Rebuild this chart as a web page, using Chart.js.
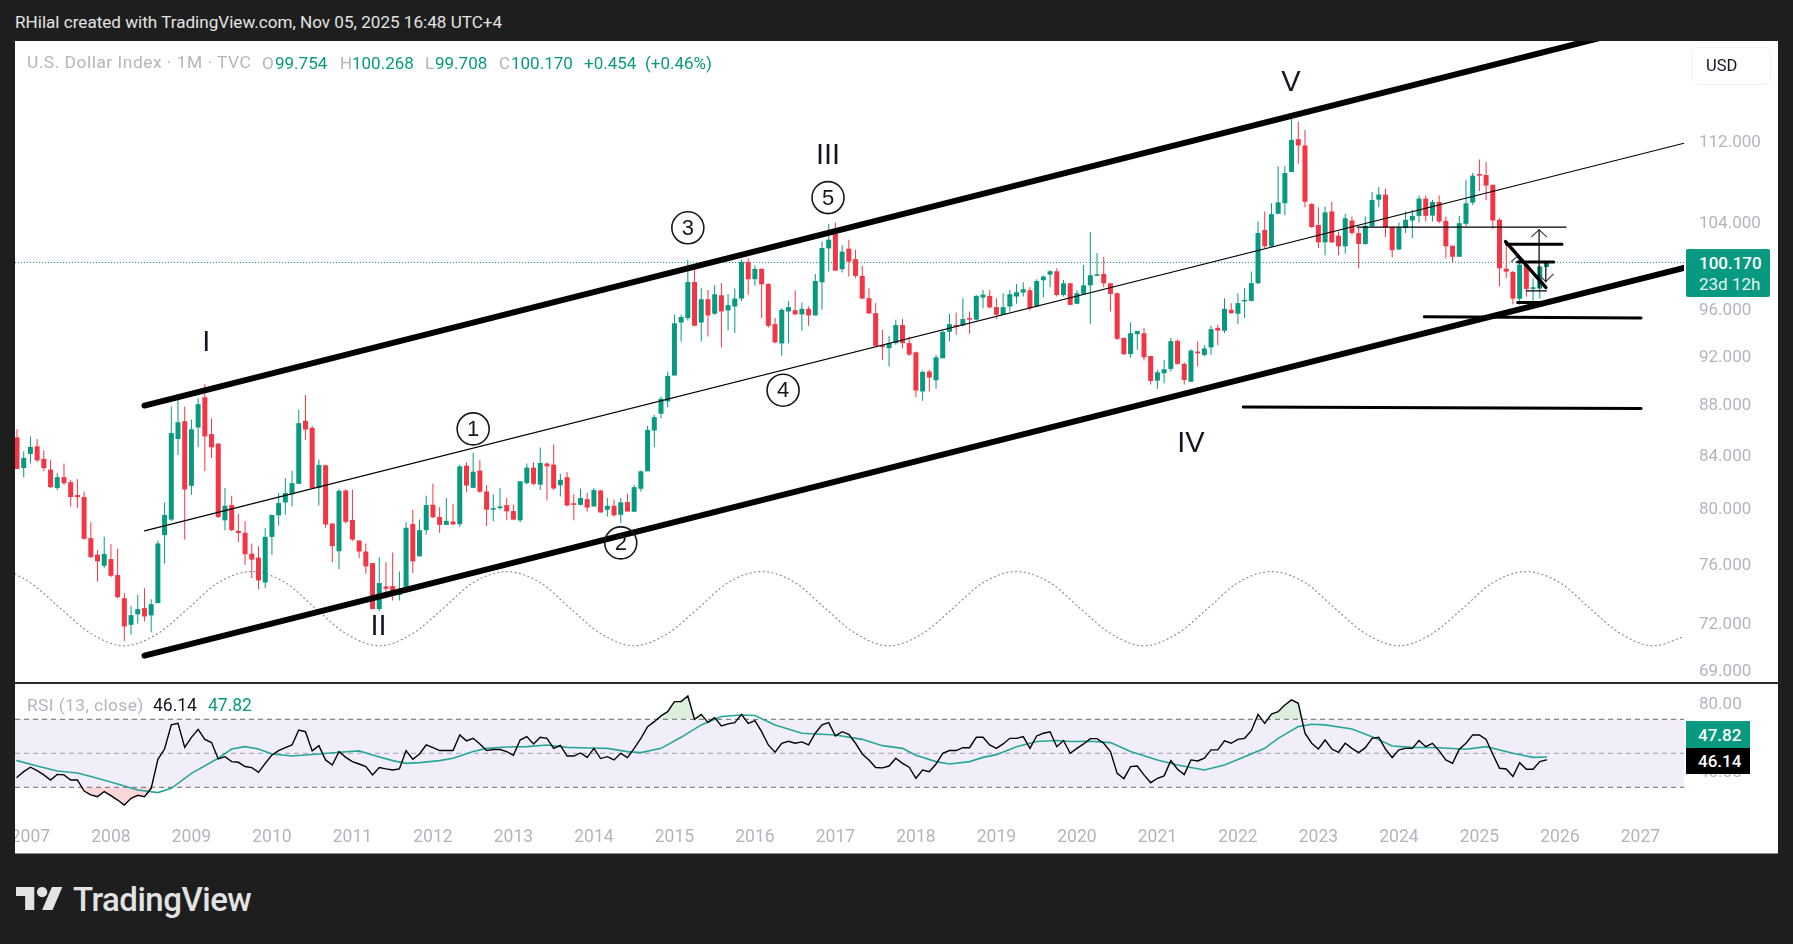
<!DOCTYPE html>
<html>
<head>
<meta charset="utf-8">
<title>U.S. Dollar Index</title>
<script src="https://cdn.jsdelivr.net/npm/chart.js@4/dist/chart.umd.js"></script>
<style>
  html, body { margin: 0; padding: 0; background: #1e1e1e; }
  #page { position: relative; width: 1793px; height: 944px; overflow: hidden; background: #1e1e1e;
          font-family: Roboto, sans-serif; }
  #card { position: absolute; left: 15px; top: 41px; width: 1763px; height: 812px; background: #fff; border-bottom: 1px solid #8a8a8a; box-sizing: content-box; }
  #mainChart { position: absolute; left: 15px; top: 41px; }
  #rsiChart  { position: absolute; left: 15px; top: 684px; }
  #sep { position: absolute; left: 15px; top: 682px; width: 1763px; height: 2px; background: #2a2a2a; }
  .t { position: absolute; white-space: nowrap; line-height: 1; transform: translateY(-50%); font-size: 17px; }
  .gray { color: #b2b5be; }
  .teal { color: #089981; }
  .tag { position: absolute; left: 1686px; }
  #usd { position: absolute; left: 1691px; top: 47px; width: 80px; height: 38px; border: 1px solid #f0f3fa; border-radius: 6px; box-sizing: border-box; }
  #logo { position: absolute; left: 16px; top: 887px; }
</style>
</head>
<body>
<div id="page">
  <div class="t" style="left:15px;top:23px;color:#e3e3e3;font-size:17.1px">RHilal created with TradingView.com, Nov 05, 2025 16:48 UTC+4</div>
  <div id="card"></div>
  <canvas id="mainChart" width="1763" height="641"></canvas>
  <canvas id="rsiChart" width="1763" height="169"></canvas>
  <div id="sep"></div>

  <div class="t gray" style="left:27px;top:63px;font-size:17.4px;letter-spacing:0.5px">U.S. Dollar Index · 1M · TVC</div>
  <div class="t gray" style="left:262px;top:63px">O</div><div class="t teal" style="left:275px;top:63px">99.754</div>
  <div class="t gray" style="left:340px;top:63px">H</div><div class="t teal" style="left:352px;top:63px">100.268</div>
  <div class="t gray" style="left:425px;top:63px">L</div><div class="t teal" style="left:435px;top:63px">99.708</div>
  <div class="t gray" style="left:499px;top:63px">C</div><div class="t teal" style="left:511px;top:63px">100.170</div>
  <div class="t teal" style="left:584px;top:63px">+0.454</div>
  <div class="t teal" style="left:645px;top:63px">(+0.46%)</div>

  <div id="usd"></div>
  <div class="t" style="left:1706px;top:66px;color:#131722;font-size:16.5px">USD</div>

  <div class="tag" style="top:249px;width:84px;height:48px;background:#089981;border-radius:2px"></div>
  <div class="t" style="left:1699px;top:263px;color:#fff;font-weight:500">100.170</div>
  <div class="t" style="left:1699px;top:284px;color:#e4f4f1">23d 12h</div>

  <div class="t gray" style="left:27px;top:706px;font-size:17.4px;letter-spacing:0.4px">RSI (13, close)</div>
  <div class="t" style="left:153px;top:706px;color:#131722;font-size:17.5px">46.14</div>
  <div class="t teal" style="left:208px;top:706px;font-size:17.5px">47.82</div>

  <div class="tag" style="top:721px;width:64px;height:27px;background:#089981"></div>
  <div class="tag" style="top:748px;width:64px;height:26px;background:#000"></div>
  <div class="t" style="left:1698px;top:735px;color:#fff;font-weight:500">47.82</div>
  <div class="t" style="left:1698px;top:761px;color:#fff;font-weight:500">46.14</div>

  <svg id="logo" width="47" height="23" viewBox="0 4 36 18" preserveAspectRatio="none">
    <path fill="#e3e3e3" d="M14 22H7V11H0V4h14v18zM28 22h-8l7.5-18h8L28 22z"/>
    <circle fill="#e3e3e3" cx="20" cy="8" r="4"/>
  </svg>
  <div class="t" style="left:73px;top:899px;color:#e3e3e3;font-size:33px;font-weight:500;letter-spacing:-0.5px">TradingView</div>
</div>

<script>
// monthly candles, Nov 2006 .. Nov 2025, index 0 = Nov 2006
const opens = [
  85.33,82.97,84.05,84.64,83.67,82.85,81.46,82.28,81.90,80.94,
  80.79,77.81,76.64,75.86,76.33,75.22,73.64,71.87,72.56,72.98,
  72.49,73.31,78.02,79.14,85.21,86.61,81.63,86.11,88.53,85.59,
  84.85,79.09,80.20,78.33,78.19,76.71,76.43,74.71,77.90,79.45,
  80.40,80.99,81.78,86.64,86.08,81.46,83.18,78.86,76.88,81.28,
  79.12,77.64,76.86,76.05,72.91,74.44,74.46,73.87,74.16,78.83,
  76.52,78.38,80.22,79.33,78.76,79.00,78.81,83.15,81.48,82.77,
  81.21,79.86,79.98,80.20,79.76,79.09,81.83,83.00,81.72,83.31,
  83.23,81.67,82.28,80.30,80.22,80.64,80.10,81.28,79.86,80.15,
  79.49,80.42,79.71,81.41,82.72,85.87,87.20,88.19,90.31,94.80,
  95.19,98.39,94.80,96.85,95.57,97.20,95.86,96.21,96.91,100.22,
  98.64,99.58,98.21,94.66,93.00,95.77,95.88,95.51,96.00,95.42,
  98.36,101.47,102.90,99.55,101.44,100.47,98.94,96.94,95.62,92.86,
  92.60,93.03,94.58,93.03,92.25,89.00,90.64,89.92,91.75,94.00,
  94.58,94.55,95.16,95.05,97.00,97.14,96.15,95.48,96.21,97.09,
  97.44,97.65,96.21,98.55,99.06,99.36,97.23,98.27,96.44,97.32,
  98.09,98.94,99.12,98.27,97.38,93.48,92.10,93.80,93.88,91.94,
  89.89,90.50,90.86,93.23,91.28,89.80,92.31,92.03,92.67,94.34,
  94.09,95.91,95.57,96.65,96.70,98.28,103.20,101.66,104.73,105.75,
  108.82,112.14,111.50,105.68,103.66,102.03,104.96,102.66,101.66,104.09,
  102.90,101.88,103.53,106.10,106.60,103.44,101.37,103.37,104.09,104.53,
  106.20,104.56,105.87,104.06,101.72,100.69,103.78,105.81,108.52,108.52,
  107.55,104.15,99.60,99.30,96.90,99.97,97.77,97.80,99.754
];
const highs = [
  85.97,84.25,85.41,85.21,84.33,83.56,82.59,83.31,82.08,82.13,
  81.19,78.95,76.95,77.90,77.38,77.05,73.98,73.13,73.87,74.32,
  73.58,77.64,80.40,87.79,88.45,87.79,86.72,88.45,89.60,86.85,
  84.85,81.46,80.89,79.57,79.02,77.43,77.24,78.55,79.50,81.09,
  82.20,82.77,87.52,88.72,86.24,83.62,83.23,78.86,81.38,81.38,
  81.33,77.64,77.43,76.05,76.45,76.10,76.79,75.47,78.95,79.86,
  79.14,80.89,81.78,80.05,80.72,80.30,83.23,83.41,84.13,83.56,
  81.70,81.00,81.46,80.72,80.22,81.97,83.31,83.41,84.54,83.41,
  84.77,82.54,82.67,81.00,81.41,81.10,81.46,81.33,80.72,80.59,
  80.72,81.04,81.70,82.79,86.24,87.12,88.59,90.64,95.48,95.48,
  100.41,99.94,97.82,97.68,98.12,98.27,97.32,97.82,100.41,100.56,
  99.88,99.64,98.27,95.20,96.06,96.70,97.62,96.55,96.21,99.12,
  102.12,103.78,103.90,101.75,102.28,101.34,99.85,97.82,96.50,94.17,
  93.66,95.05,95.11,93.60,92.31,90.72,90.78,92.03,94.12,95.54,
  95.68,96.94,95.77,97.23,97.68,97.68,96.94,97.38,97.68,98.21,
  98.36,97.91,98.64,99.00,99.48,99.64,98.58,98.33,97.68,99.94,
  103.00,101.03,100.66,98.33,97.44,93.48,94.80,94.12,94.32,91.94,
  90.78,91.61,93.46,93.32,91.39,92.51,93.17,92.86,94.52,94.60,
  96.93,96.50,97.39,97.84,99.34,104.00,104.95,105.75,109.40,109.40,
  114.65,113.95,113.10,105.75,105.37,105.41,105.90,103.06,104.72,104.47,
  103.37,104.47,106.85,107.33,107.17,103.53,103.90,104.95,105.10,106.50,
  106.50,106.06,106.50,104.47,101.72,104.53,108.05,108.72,110.08,109.85,
  107.55,104.30,102.10,99.40,100.26,100.25,98.70,99.85,100.268
];
const lows = [
  82.90,82.28,83.31,83.41,82.72,81.46,81.31,81.70,80.10,79.98,
  77.71,76.40,74.78,75.70,75.08,73.64,70.80,71.23,71.94,72.09,
  71.38,73.31,76.00,79.02,83.97,77.71,80.96,84.56,82.72,83.74,
  79.26,78.38,78.31,77.52,75.93,75.01,74.25,74.32,76.64,78.71,
  79.50,80.10,81.78,85.15,81.46,80.17,78.55,76.10,75.63,78.86,
  77.60,76.40,75.31,72.91,72.76,73.64,73.49,73.49,74.16,75.36,
  76.52,78.05,79.26,78.19,78.76,78.76,78.62,81.19,81.48,81.12,
  78.67,79.02,79.86,79.09,79.09,78.95,81.72,81.67,81.31,80.53,
  81.31,80.84,80.10,79.09,80.17,79.74,80.10,79.66,79.37,79.37,
  78.89,79.73,79.71,81.21,82.72,84.56,86.85,87.73,90.31,93.17,
  94.99,94.46,93.17,93.60,95.48,92.66,94.12,93.89,96.70,97.24,
  98.06,95.20,94.37,93.03,91.97,93.03,95.51,94.09,94.52,95.42,
  95.91,99.33,99.42,99.24,98.88,98.73,96.85,95.54,92.80,91.61,
  91.06,92.89,92.60,91.94,88.54,88.24,89.00,89.22,91.75,93.17,
  93.74,94.46,93.83,94.99,96.06,96.06,95.10,95.48,95.77,96.44,
  97.09,95.86,96.15,97.00,97.91,97.09,97.09,96.35,96.44,97.23,
  94.69,98.94,97.91,95.77,93.30,92.03,91.80,92.46,91.56,89.58,
  89.22,89.67,90.64,91.20,89.58,89.75,91.06,91.89,92.03,92.86,
  93.89,95.57,94.67,95.17,96.65,98.22,101.50,101.60,104.73,104.60,
  108.82,109.65,105.37,103.40,101.50,100.84,101.97,100.84,101.00,102.75,
  99.64,101.81,103.53,105.37,102.53,100.63,101.30,102.90,102.44,103.90,
  104.00,104.00,103.84,100.54,100.15,100.69,103.53,105.59,106.95,106.05,
  103.28,97.98,98.76,96.40,96.37,97.10,96.22,96.90,99.708
];
const closes = [
  82.90,83.74,84.59,83.56,82.97,81.53,82.28,81.83,80.79,80.79,
  77.76,76.48,76.17,76.69,75.17,73.71,71.76,72.51,72.91,72.42,
  73.24,77.43,79.48,85.67,86.53,81.36,85.97,87.97,85.41,84.56,
  79.33,80.15,78.38,78.17,76.67,76.29,74.85,77.90,79.48,80.35,
  81.09,81.83,86.45,85.95,81.46,83.21,78.79,77.24,81.26,78.98,
  77.71,76.86,75.82,72.91,74.67,74.28,73.87,74.21,78.55,76.17,
  78.38,80.20,79.31,78.76,79.05,78.79,83.10,81.65,82.69,81.19,
  79.86,79.93,80.10,79.74,79.14,81.97,83.00,81.78,83.36,83.10,
  81.43,82.08,80.17,80.22,80.72,80.02,81.31,79.66,80.15,79.45,
  80.40,79.73,81.53,82.72,85.92,86.93,88.41,90.28,94.74,95.28,
  98.39,94.52,96.85,95.42,97.29,95.77,96.32,96.91,100.22,98.64,
  99.58,98.18,94.52,93.09,95.91,96.15,95.51,96.00,95.42,98.48,
  101.50,102.28,99.42,101.16,100.25,98.94,96.91,95.60,92.80,92.69,
  93.03,94.58,93.03,92.06,89.08,90.61,90.14,91.83,94.00,94.66,
  94.43,95.10,95.05,97.14,97.26,96.12,95.48,96.15,97.29,97.47,
  97.74,96.06,98.48,98.88,99.36,97.23,98.27,96.35,97.38,98.09,
  99.00,99.00,98.27,97.32,93.40,92.09,93.88,94.06,91.83,89.86,
  90.58,90.83,93.20,91.28,89.94,92.40,92.17,92.58,94.23,94.11,
  96.00,95.62,96.50,96.70,98.28,102.90,101.66,104.70,105.84,108.72,
  112.07,111.50,105.90,103.47,102.03,104.87,102.03,101.66,104.31,102.90,
  101.88,103.59,106.06,106.60,103.44,101.30,103.44,104.16,104.53,106.20,
  104.53,105.87,104.00,101.66,100.69,103.84,105.75,108.46,108.46,107.48,
  104.09,99.64,99.33,96.90,99.97,97.77,97.80,99.80,100.170
];

// RSI (13), one value per candle
const rsiValues = [
  35.9,39.2,41.8,39.8,37.3,34.3,37.6,37.3,34.3,34.3,
  27.8,25.5,24.5,27.5,25.1,22.5,19.6,23.5,25.3,24.5,
  29.4,46.5,52.5,66.7,67.6,53.5,59.4,64.1,58.2,56.3,
  46.7,48.0,45.1,44.7,42.2,41.6,38.8,44.1,49.0,51.6,
  53.3,54.9,63.7,62.7,51.4,54.5,46.1,43.1,51.0,47.6,
  45.1,43.7,42.2,37.3,41.6,40.8,40.2,40.8,51.6,46.5,
  49.6,54.9,53.3,51.6,51.6,51.6,60.8,57.3,58.8,55.5,
  51.6,52.2,52.2,51.0,48.8,57.8,59.8,55.5,59.4,58.8,
  52.9,54.7,48.4,48.4,50.2,47.6,52.9,46.9,48.0,46.1,
  50.0,47.5,52.9,58.8,65.7,68.6,72.0,74.5,80.4,80.4,
  83.7,70.0,72.9,68.2,71.0,66.1,67.3,68.0,72.9,67.6,
  69.2,62.7,54.9,50.6,55.9,57.1,55.9,56.7,54.9,61.8,
  66.7,68.0,60.2,62.7,61.2,55.9,49.6,46.1,41.6,41.4,
  42.5,47.1,44.1,41.8,35.3,40.2,39.2,43.7,50.0,51.6,
  51.6,53.3,53.3,59.4,59.4,54.9,52.9,55.5,58.8,58.8,
  59.8,52.9,60.2,61.8,62.7,53.9,57.5,50.0,52.9,55.5,
  58.6,58.6,55.9,51.0,38.2,35.1,42.2,42.5,37.3,32.7,
  35.3,36.7,45.7,40.6,37.5,46.1,45.5,47.1,52.0,52.0,
  57.3,55.9,58.2,58.8,63.3,72.9,67.6,73.1,74.5,78.4,
  81.4,79.4,61.8,55.9,52.5,57.8,52.5,50.6,55.9,52.9,
  50.4,53.3,58.8,59.4,52.4,47.5,52.0,52.9,52.9,57.5,
  53.9,55.9,51.4,46.1,44.1,52.4,55.9,60.8,60.8,58.2,
  49.4,41.2,40.8,36.3,44.5,40.6,40.6,45.1,46.14
];
// RSI moving average, read at these candle indexes
const rsiMaIndex = [0,3,6,9,12,15,18,21,23,26,30,32,34,36,38,41,45,48,51,53,56,58,60,63,65,68,70,73,76,79,82,85,88,91,93,96,99,102,105,108,110,113,117,122,126,129,132,134,137,139,142,144,146,149,152,155,157,160,163,166,170,173,177,180,183,186,188,191,193,195,199,202,205,208,212,216,219,223,226,228];
const rsiMaValues = [45.7,42.5,39.6,38.4,35.3,32.0,28.4,26.9,29.4,38.2,47.1,52.5,53.9,52.5,49.6,48.4,49.6,50.6,51.4,49.0,45.7,44.1,44.5,45.7,47.1,51.0,52.9,53.7,53.9,54.9,53.5,53.1,52.9,51.0,50.4,52.9,59.4,66.7,71.6,72.5,72.2,66.7,61.8,60.8,58.2,54.5,52.9,48.8,45.1,43.7,45.1,47.6,49.2,53.9,56.9,57.5,56.9,57.1,56.3,51.0,46.1,43.1,40.2,43.1,48.0,52.9,58.8,65.7,67.1,66.7,64.3,59.8,54.3,53.5,53.3,52.4,53.9,50.0,47.6,47.82];

// axis ticks
const yearLabels = ['2007','2008','2009','2010','2011','2012','2013','2014','2015','2016','2017','2018','2019','2020','2021','2022','2023','2024','2025','2026','2027'];
const yearIndexes = [2,14,26,38,50,62,74,86,98,110,122,134,146,158,170,182,194,206,218,230,242];
const priceTicks = [69,72,76,80,84,88,92,96,104,112];
const rsiTicks = [40,80];

// dotted cycle line under the candles
const cycleIndex = [-0.3,2,6.5,11,16,21,25.5,30,35,40,44.5,49,54,59,63.5,68,73,78,82.5,87,92,97,101.5,106,111,116,120.5,125,130,135,139.5,144,149,154,158.5,163,168,173,177.5,182,187,192,196.5,201,206,211,215.5,220,225,230,234.5,239,244,248.5];
const cycleValues = [75.3,74.7,72.95,71.3,70.5,71.3,72.95,74.7,75.46,74.7,72.95,71.3,70.5,71.3,72.95,74.7,75.46,74.7,72.95,71.3,70.5,71.3,72.95,74.7,75.46,74.7,72.95,71.3,70.5,71.3,72.95,74.7,75.46,74.7,72.95,71.3,70.5,71.3,72.95,74.7,75.46,74.7,72.95,71.3,70.5,71.3,72.95,74.7,75.46,74.7,72.95,71.3,70.5,71.1];

// drawn lines as [candle index, price] pairs
const channelTop    = [[19,87.86],[248.5,125.46]];
const channelMid    = [[19,78.33],[248.5,111.73]];
const channelBottom = [[19,69.87],[248.5,99.67]];
const levelThin     = [[199.8,103.46],[230.9,103.46]];
const levelEntry    = [[222.1,101.85],[230.3,101.85]];
const levelClose    = [[223.7,100.2],[229.1,100.2]];
const levelBase     = [[223.7,96.56],[227.9,96.56]];
const levelBox      = [[225,97.6],[228,97.6]];
const levelMid      = [[209.8,95.3],[242.1,95.2]];
const levelLow      = [[182.8,87.75],[242.1,87.62]];
const fallLine      = [[221.9,102.1],[227.9,97.9]];
const arrowUpShaft  = [[226.9,103.2],[226.9,97.87]];
const arrowUpHead   = [[225.8,102.57],[226.9,103.2],[228,102.57]];
const arrowDownShaft = [[227.9,100.13],[227.9,98.43]];
const arrowDownHead = [[226.8,99.1],[227.9,98.43],[229,99.1]];
const arrowSmallHead = [[222.8,100.25],[223.6,100.71],[224.1,100.3]];
const lastPrice     = [[-0.3,100.17],[248.5,100.17]];

// wave labels
const waveLabels = ['I','II','III','IV','V'];
const waveIndexes = [28.2,53.9,120.9,175,189.9];
const wavePrices = [93.0,71.75,110.45,84.85,118.05];
const circleLabels = ['1','2','3','4','5'];
const circleIndexes = [68,90,100,114.2,120.9];
const circlePrices = [86.0,77.47,103.4,89.1,106.3];

const GREEN = '#089981';
const RED = '#f23645';
const AXIS_GRAY = '#b2b5be';
const X_MIN = -0.3;
const X_MAX = 248.5;

Chart.defaults.font.family = 'Roboto, sans-serif';
Chart.defaults.animation = false;

function candleColor(ctx) {
  const i = ctx.dataIndex;
  return closes[i] >= opens[i] ? GREEN : RED;
}

function lineSet(points, width, color, order) {
  return {
    type: 'line',
    data: points.map(p => ({ x: p[0], y: p[1] })),
    borderColor: color,
    borderWidth: width,
    borderCapStyle: 'round',
    pointRadius: 0,
    fill: false,
    order: order === undefined ? 1 : order
  };
}

function resetPadding(s) {
  s.paddingLeft = 0; s.paddingRight = 0; s.paddingTop = 0; s.paddingBottom = 0;
}

const waveLabelPlugin = {
  id: 'waveLabels',
  afterDatasetsDraw(chart) {
    const c = chart.ctx, x = chart.scales.x, y = chart.scales.y;
    c.save();
    c.fillStyle = '#131722';
    c.textAlign = 'center';
    c.textBaseline = 'middle';
    c.font = '29px "Liberation Sans"';
    waveLabels.forEach((t, i) => {
      c.fillText(t, x.getPixelForValue(waveIndexes[i]), y.getPixelForValue(wavePrices[i]));
    });
    c.font = '22px "Liberation Sans"';
    c.strokeStyle = '#131722';
    c.lineWidth = 1.6;
    circleLabels.forEach((t, i) => {
      const px = x.getPixelForValue(circleIndexes[i]);
      const py = y.getPixelForValue(circlePrices[i]);
      c.beginPath();
      c.arc(px, py, 16, 0, Math.PI * 2);
      c.stroke();
      c.fillText(t, px, py + 1);
    });
    c.restore();
  }
};

// wicks and bodies are floating bars, so they stay on the log scale
const candleRows = opens.map((o, i) => i);

new Chart(document.getElementById('mainChart').getContext('2d'), {
  type: 'bar',
  data: {
    datasets: [
      lineSet(channelTop, 6, '#000'),
      lineSet(channelMid, 1.1, '#000'),
      lineSet(channelBottom, 6, '#000'),
      lineSet(levelThin, 1.3, '#000'),
      lineSet(levelEntry, 3, '#000'),
      lineSet(levelClose, 3, '#000'),
      lineSet(levelBase, 3, '#000'),
      lineSet(levelBox, 1.3, '#000'),
      lineSet(levelMid, 3, '#000'),
      lineSet(levelLow, 3, '#000'),
      lineSet(fallLine, 3.5, '#000'),
      lineSet(arrowUpShaft, 1.2, '#000'),
      lineSet(arrowUpHead, 1.2, '#444'),
      lineSet(arrowDownShaft, 1.2, '#000'),
      lineSet(arrowDownHead, 1.2, '#444'),
      lineSet(arrowSmallHead, 1.2, '#444'),
      {
        type: 'bar',
        data: candleRows.map(i => ({ x: i, y: [opens[i], closes[i]] })),
        backgroundColor: candleColor,
        barThickness: 5,
        minBarLength: 1.6,
        inflateAmount: 0,
        grouped: false,
        order: 2
      },
      {
        type: 'bar',
        data: candleRows.map(i => ({ x: i, y: [lows[i], highs[i]] })),
        backgroundColor: candleColor,
        barThickness: 1,
        inflateAmount: 0,
        grouped: false,
        order: 3
      },
      Object.assign(lineSet(lastPrice, 1, GREEN, 4), { borderDash: [1, 2], borderCapStyle: 'butt' }),
      Object.assign(
        lineSet(cycleIndex.map((v, i) => [v, cycleValues[i]]), 1.2, '#8a8d96', 4),
        { borderDash: [1, 3.4], cubicInterpolationMode: 'monotone' }
      )
    ]
  },
  options: {
    responsive: false,
    layout: { padding: 0 },
    plugins: { legend: { display: false }, tooltip: { enabled: false } },
    scales: {
      x: {
        type: 'linear', min: X_MIN, max: X_MAX, offset: false, display: false,
        afterFit: resetPadding
      },
      y: {
        type: 'logarithmic', position: 'right', min: 68.2, max: 122.7,
        grid: { display: false, drawTicks: false },
        border: { display: false },
        afterBuildTicks: s => { s.ticks = priceTicks.map(v => ({ value: v })); },
        afterFit: s => { s.width = 94; resetPadding(s); },
        ticks: {
          autoSkip: false, padding: 15, labelOffset: 2.3, color: AXIS_GRAY, font: { size: 17 },
          callback: v => Number(v).toFixed(3)
        }
      }
    }
  },
  plugins: [waveLabelPlugin]
});

new Chart(document.getElementById('rsiChart').getContext('2d'), {
  type: 'line',
  data: {
    datasets: [
      lineSet(rsiValues.map((v, i) => [i, v]), 1.4, '#000', 1),
      lineSet(rsiMaIndex.map((v, i) => [v, rsiMaValues[i]]), 1.6, '#26a69a', 2),
      Object.assign(lineSet(rsiValues.map((v, i) => [i, v]), 0, 'transparent', 3),
        { fill: { target: { value: 70 }, above: 'rgba(76,175,80,0.2)', below: 'rgba(0,0,0,0)' } }),
      Object.assign(lineSet(rsiValues.map((v, i) => [i, v]), 0, 'transparent', 3),
        { fill: { target: { value: 30 }, above: 'rgba(0,0,0,0)', below: 'rgba(242,54,69,0.2)' } }),
      Object.assign(lineSet([[X_MIN, 70], [X_MAX, 70]], 1, '#666a73', 4),
        { borderDash: [5, 4], borderCapStyle: 'butt', backgroundColor: 'rgba(126,87,194,0.1)', fill: { target: { value: 30 } } }),
      Object.assign(lineSet([[X_MIN, 50], [X_MAX, 50]], 1, '#a3a6af', 4), { borderDash: [5, 4], borderCapStyle: 'butt' }),
      Object.assign(lineSet([[X_MIN, 30], [X_MAX, 30]], 1, '#666a73', 4), { borderDash: [5, 4], borderCapStyle: 'butt' })
    ]
  },
  options: {
    responsive: false,
    layout: { padding: 0 },
    plugins: { legend: { display: false }, tooltip: { enabled: false } },
    scales: {
      x: {
        type: 'linear', min: X_MIN, max: X_MAX, offset: false,
        grid: { display: false, drawTicks: false },
        border: { display: false },
        afterBuildTicks: s => { s.ticks = yearIndexes.map(v => ({ value: v })); },
        afterFit: s => { s.height = 28; resetPadding(s); },
        ticks: {
          autoSkip: false, maxRotation: 0, padding: 2, color: AXIS_GRAY, font: { size: 17.5 },
          callback: v => yearLabels[yearIndexes.indexOf(v)]
        }
      },
      y: {
        type: 'linear', position: 'right', min: 7.82, max: 90.76,
        grid: { display: false, drawTicks: false },
        border: { display: false },
        afterBuildTicks: s => { s.ticks = rsiTicks.map(v => ({ value: v })); },
        afterFit: s => { s.width = 94; resetPadding(s); },
        ticks: {
          autoSkip: false, padding: 15, labelOffset: 2.3, color: AXIS_GRAY, font: { size: 17 },
          callback: v => Number(v).toFixed(2)
        }
      }
    }
  }
});
</script>
</body>
</html>
